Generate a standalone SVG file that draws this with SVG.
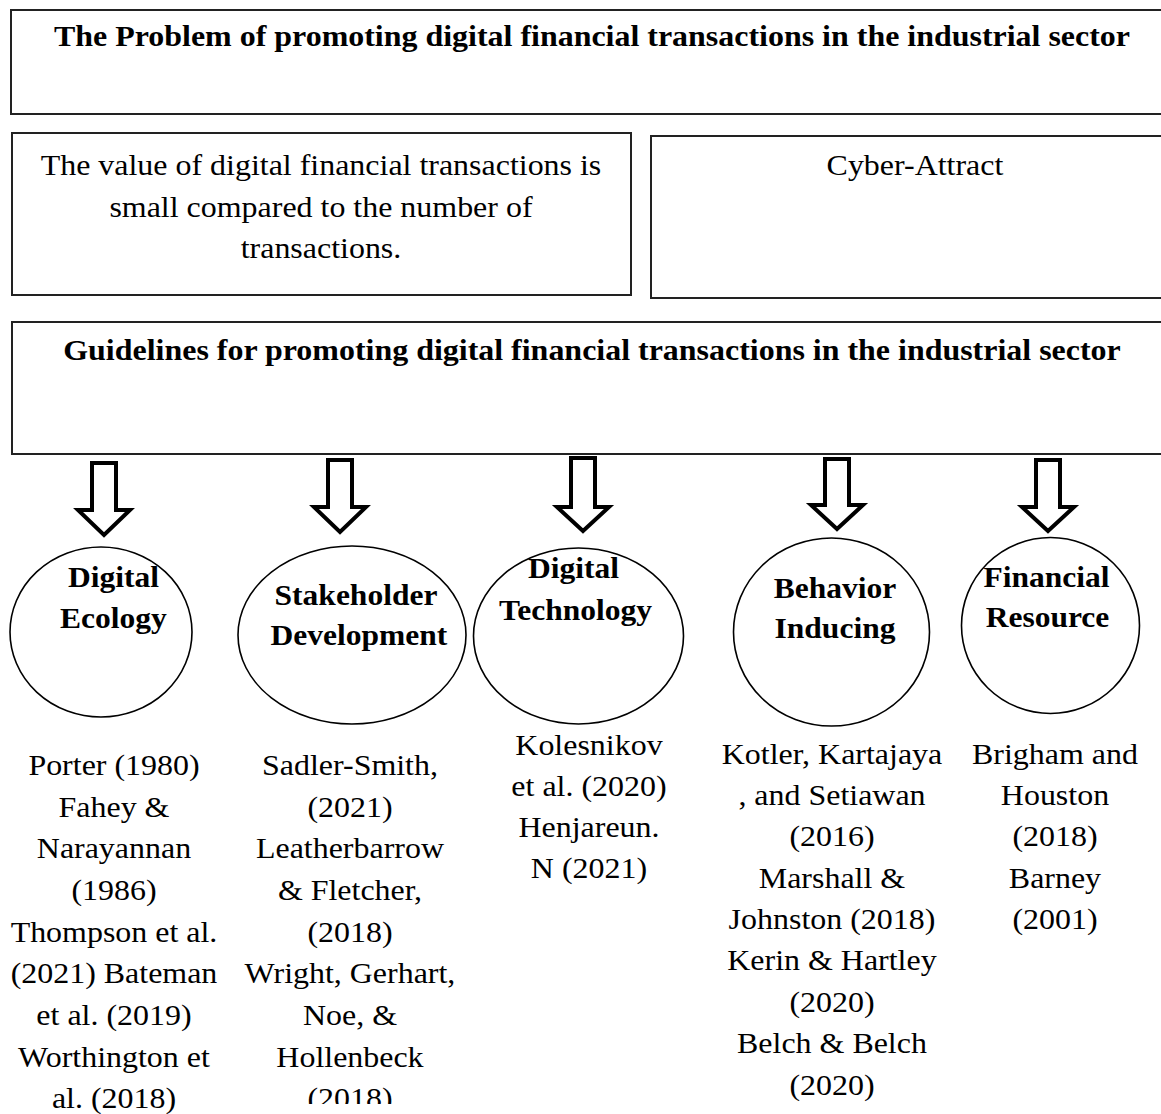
<svg xmlns="http://www.w3.org/2000/svg" width="1161" height="1114" viewBox="0 0 1161 1114">
<defs>
<style>
.box{fill:#fff;stroke:#222;stroke-width:2}
.ell{fill:#fff;stroke:#000;stroke-width:1.6}
.arr{fill:#fff;stroke:#000;stroke-width:4;stroke-linejoin:miter}
text{font-family:"Liberation Serif","Times New Roman",serif;fill:#000;text-anchor:middle;transform-box:fill-box;transform-origin:center;transform:scaleX(1.065)}
.ttl{font-size:30px;font-weight:bold}
.lbl{font-size:29.6px;font-weight:bold}
.txt{font-size:30px}
</style>
<clipPath id="clip2" clipPathUnits="userSpaceOnUse"><rect x="0" y="0" width="1161" height="1104"/></clipPath>
</defs>
<rect width="1161" height="1114" fill="#fff"/>

<g id="problem">
<rect class="box" x="11" y="10" width="1170" height="104"/>
<text class="ttl" x="592" y="46">The Problem of promoting digital financial transactions in the industrial sector</text>
</g>
<g id="value">
<rect class="box" x="12" y="133" width="619" height="162"/>
<text class="txt" x="321" y="175">The value of digital financial transactions is</text>
<text class="txt" x="321" y="217">small compared to the number of</text>
<text class="txt" x="321" y="258">transactions.</text>
</g>
<g id="cyber">
<rect class="box" x="651" y="136" width="530" height="162"/>
<text class="txt" x="915" y="175">Cyber-Attract</text>
</g>
<g id="guidelines">
<rect class="box" x="12" y="322" width="1170" height="132"/>
<text class="ttl" x="592" y="360">Guidelines for promoting digital financial transactions in the industrial sector</text>
</g>

<g id="connectors">
<path class="arr" d="M92,463 H116 V510 H130 L104,535 L78,510 H92 Z"/>
<path class="arr" d="M328,460 H352 V507 H366 L340,532 L314,507 H328 Z"/>
<path class="arr" d="M571,458 H595 V507 H609 L583,531 L557,507 H571 Z"/>
<path class="arr" d="M825,459 H849 V505 H863 L837,529 L811,505 H825 Z"/>
<path class="arr" d="M1036,460 H1060 V507 H1074 L1048,531 L1022,507 H1036 Z"/>
</g>

<g id="digital-ecology">
<ellipse class="ell" cx="101" cy="632" rx="91" ry="85"/>
<text class="lbl" x="113.5" y="587">Digital</text>
<text class="lbl" x="113.5" y="628">Ecology</text>
</g>
<g id="stakeholder-development">
<ellipse class="ell" cx="352" cy="635" rx="114" ry="89"/>
<text class="lbl" x="356" y="605">Stakeholder</text>
<text class="lbl" x="359" y="645">Development</text>
</g>
<g id="digital-technology">
<ellipse class="ell" cx="578.5" cy="636" rx="105" ry="88"/>
<text class="lbl" x="573.5" y="578">Digital</text>
<text class="lbl" x="575.5" y="620">Technology</text>
</g>
<g id="behavior-inducing">
<ellipse class="ell" cx="831.5" cy="632" rx="98" ry="94"/>
<text class="lbl" x="835" y="598">Behavior</text>
<text class="lbl" x="835" y="638">Inducing</text>
</g>
<g id="financial-resource">
<ellipse class="ell" cx="1050.5" cy="625.5" rx="89" ry="88"/>
<text class="lbl" x="1046.5" y="587">Financial</text>
<text class="lbl" x="1047.5" y="627">Resource</text>
</g>

<g id="refs-ecology">
<text class="txt" x="114" y="775">Porter (1980)</text>
<text class="txt" x="114" y="817">Fahey &amp;</text>
<text class="txt" x="114" y="858">Narayannan</text>
<text class="txt" x="114" y="900">(1986)</text>
<text class="txt" x="114" y="942">Thompson et al.</text>
<text class="txt" x="114" y="983">(2021) Bateman</text>
<text class="txt" x="114" y="1025">et al. (2019)</text>
<text class="txt" x="114" y="1067">Worthington et</text>
<text class="txt" x="114" y="1108">al. (2018)</text>
</g>
<g id="refs-stakeholder" clip-path="url(#clip2)">
<text class="txt" x="350" y="775">Sadler-Smith,</text>
<text class="txt" x="350" y="817">(2021)</text>
<text class="txt" x="350" y="858">Leatherbarrow</text>
<text class="txt" x="350" y="900">&amp; Fletcher,</text>
<text class="txt" x="350" y="942">(2018)</text>
<text class="txt" x="350" y="983">Wright, Gerhart,</text>
<text class="txt" x="350" y="1025">Noe, &amp;</text>
<text class="txt" x="350" y="1067">Hollenbeck</text>
<text class="txt" x="350" y="1108">(2018)</text>
</g>
<g id="refs-technology">
<text class="txt" x="589" y="755">Kolesnikov</text>
<text class="txt" x="589" y="796">et al. (2020)</text>
<text class="txt" x="589" y="837">Henjareun.</text>
<text class="txt" x="589" y="878">N (2021)</text>
</g>
<g id="refs-behavior">
<text class="txt" x="832" y="764">Kotler, Kartajaya</text>
<text class="txt" x="832" y="805">, and Setiawan</text>
<text class="txt" x="832" y="846">(2016)</text>
<text class="txt" x="832" y="888">Marshall &amp;</text>
<text class="txt" x="832" y="929">Johnston (2018)</text>
<text class="txt" x="832" y="970">Kerin &amp; Hartley</text>
<text class="txt" x="832" y="1012">(2020)</text>
<text class="txt" x="832" y="1053">Belch &amp; Belch</text>
<text class="txt" x="832" y="1095">(2020)</text>
</g>
<g id="refs-financial">
<text class="txt" x="1055" y="764">Brigham and</text>
<text class="txt" x="1055" y="805">Houston</text>
<text class="txt" x="1055" y="846">(2018)</text>
<text class="txt" x="1055" y="888">Barney</text>
<text class="txt" x="1055" y="929">(2001)</text>
</g>
</svg>
